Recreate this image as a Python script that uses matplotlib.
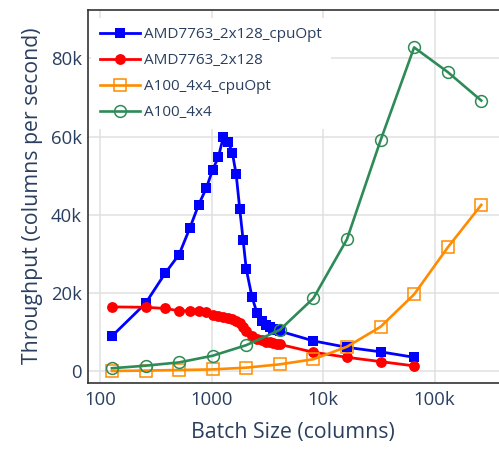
import matplotlib
matplotlib.use("Agg")
import matplotlib.pyplot as plt
from matplotlib.ticker import FixedLocator, NullLocator

plt.rcParams['font.family'] = ['Open Sans', 'DejaVu Sans']

# --- data ---
cpu_opt_x = [128, 256, 384, 512, 640, 768, 896, 1024, 1152, 1280, 1408, 1536,
             1664, 1792, 1920, 2048, 2304, 2560, 2816, 3072, 3328, 3584, 3840,
             4096, 8192, 16384, 32768, 65536]
cpu_opt_y = [8900, 17300, 25000, 29800, 36600, 42600, 46700, 51500, 54700,
             60000, 58700, 55900, 50300, 41400, 33500, 26100, 19000, 14800,
             12800, 11800, 11200, 10700, 10400, 10200, 7700, 6050, 4900, 3500]

cpu_x = [128, 256, 384, 512, 640, 768, 896, 1024, 1152, 1280, 1408, 1536,
         1664, 1792, 1920, 2048, 2304, 2560, 2816, 3072, 3328, 3584, 3840,
         4096, 8192, 16384, 32768, 65536]
cpu_y = [16400, 16300, 16000, 15400, 15400, 15300, 15200, 14400, 14100,
         13900, 13600, 13200, 12800, 12200, 11200, 10200, 9000, 8200, 7800,
         7500, 7300, 7100, 6900, 6800, 4800, 3500, 2400, 1300]

gpu_x = [128, 256, 512, 1024, 2048, 4096, 8192, 16384, 32768, 65536,
         131072, 262144]
gpu_opt_y = [0, 100, 250, 400, 850, 1700, 3000, 6200, 11300, 19600,
             31600, 42500]
gpu_y = [700, 1350, 2200, 3900, 6600, 10500, 18600, 33700, 59000, 82800,
         76500, 69200]

series_names = ['AMD7763_2x128_cpuOpt', 'AMD7763_2x128', 'A100_4x4_cpuOpt',
                'A100_4x4']

x_ticks = [100, 1000, 10000, 100000]
x_tick_labels = ['100', '1000', '10k', '100k']
y_ticks = [0, 20000, 40000, 60000, 80000]
y_tick_labels = ['0', '20k', '40k', '60k', '80k']

TXT = '#2a3f5f'

fig = plt.figure(figsize=(4.99, 4.49), dpi=100)
ax = fig.add_axes([87.5 / 499, 1 - 382.7 / 449, 1 - 87.5 / 499,
                   (382.7 - 9.5) / 449])
ax.set_xscale('log')
ax.set_xlim(77.3, 378000)
ax.set_ylim(-3000, 92500)

ax.grid(True, color='#e0e0e0', lw=1.1)
ax.set_axisbelow(True)
for s in ['left', 'top', 'bottom']:
    ax.spines[s].set_color('#333333')
    ax.spines[s].set_linewidth(1.2)
ax.spines['right'].set_visible(False)

ax.xaxis.set_major_locator(FixedLocator(x_ticks))
ax.xaxis.set_minor_locator(NullLocator())
ax.set_xticks(x_ticks, x_tick_labels)
ax.set_yticks(y_ticks, y_tick_labels)
ax.tick_params(axis='y', length=0, labelsize=13.3, colors=TXT, pad=4)
ax.tick_params(axis='x', length=0, labelsize=13.3, colors=TXT, pad=6)
ax.set_xlabel('Batch Size (columns)', fontsize=15.3, color=TXT, labelpad=9)
ax.set_ylabel('Throughput (columns per second)', fontsize=15.3, color=TXT,
              labelpad=6)

styles = [
    dict(color='#0000ff', marker='s', ms=7, mfc='#0000ff', mew=0, lw=2.0),
    dict(color='#ff0000', marker='o', ms=7.8, mfc='#ff0000', mew=0, lw=2.0),
    dict(color='#ff8c00', marker='s', ms=8, mfc='none', mew=1.1, lw=1.9),
    dict(color='#2e8b57', marker='o', ms=8.5, mfc='none', mew=1.1, lw=1.9),
]
data = [(cpu_opt_x, cpu_opt_y), (cpu_x, cpu_y), (gpu_x, gpu_opt_y),
        (gpu_x, gpu_y)]

for k, ((xs, ys), st, name) in enumerate(zip(data, styles, series_names)):
    ax.plot(xs, ys, color=st['color'], lw=st['lw'], marker=st['marker'],
            ms=st['ms'], mfc=st['mfc'], mec=st['color'], mew=st['mew'],
            solid_joinstyle='round', label=name, zorder=3 + k)

leg = ax.legend(loc='upper left', bbox_to_anchor=(0.0083, 0.9775),
                frameon=True, fancybox=False, framealpha=1,
                edgecolor='none', facecolor='white', fontsize=11,
                handlelength=2.6, labelspacing=0.72, borderaxespad=0,
                handletextpad=0.3, borderpad=0.6)
for t in leg.get_texts():
    t.set_color(TXT)
leg.set_zorder(10)

fig.savefig('out.png', dpi=100)
